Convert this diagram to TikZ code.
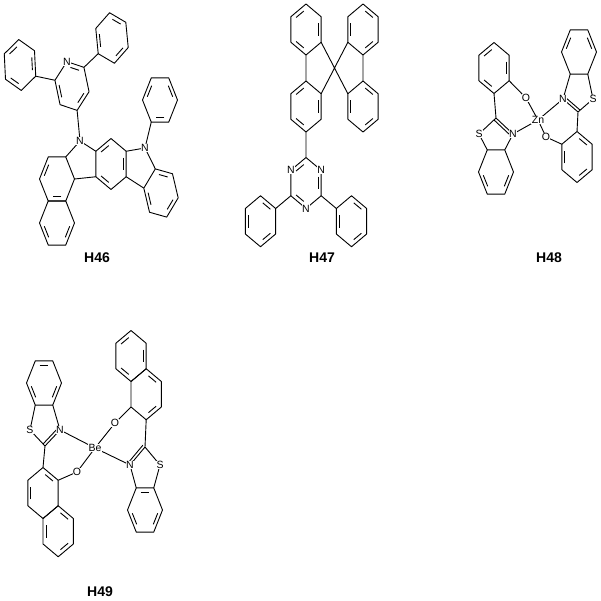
\documentclass[tikz,border=0pt]{standalone}
\usepackage{fontspec}
\setmainfont{Liberation Sans}
\usetikzlibrary{calc}
\tikzset{bond/.style={line width=0.9pt,line join=round},
 atom/.style={fill=white,inner sep=0.4pt,font=\fontsize{10.5}{10.5}\selectfont},
 cname/.style={font=\fontsize{14}{14}\selectfont\bfseries}}
\newcommand\ring[5]{%
 \foreach \k in {0,...,5}{\coordinate (#1\k) at ($(#2,#3)+(#4+60*\k:17.5 and 25.5)$);}
 \draw[bond] (#10)--(#11)--(#12)--(#13)--(#14)--(#15)--cycle;
 \foreach \k in {#5}{\draw[bond] ($(#2,#3)+(#4+60*\k+10:12.9 and 18.7)$) -- ($(#2,#3)+(#4+60*\k+50:12.9 and 18.7)$);}}
\newcommand\dbl[2]{\draw[bond] ($(#1)!2.8pt!-90:(#2)$) -- ($(#2)!2.8pt!90:(#1)$);}
\begin{document}
\begin{tikzpicture}[x=1pt,y=-1pt]
\useasboundingbox (0,0) rectangle (601,601);
% ---------------- H46
\ring{c}{111}{164}{30}{1,3,5}
\ring{lu}{57}{179}{0}{1,3}
\ring{ll}{57}{223}{0}{0,2}
\ring{r}{161}{193}{11}{0,2,4}
\ring{pn}{160}{100}{0}{1,3,5}
\ring{py}{72}{86}{13}{0,2,4}
\ring{pl}{20}{65}{26}{1,3,5}
\ring{pr}{112}{38}{22}{0,2,4}
\coordinate (na) at (80,141);
\coordinate (nb) at (145,148);
\draw[bond] (na)--(c3) (c2)--(lu0) (lu5)--(na);
\draw[bond] (c5)--(nb)--(r4) (c0)--(r3);
\draw[bond] (nb)--(pn2) (na)--(py1) (py3)--(pl0) (py5)--(pr2);
\node[atom] at (na) {N};
\node[atom] at (nb) {N};
\node[atom] at (py4) {N};
\node[cname] at (97,258) {H46};
% ---------------- H47
\ring{tz}{306}{183}{30}{1,3,5}
\ring{pa}{260.5}{221.25}{30}{0,2,4}
\ring{pb}{351.5}{221.25}{30}{0,2,4}
\ring{fa}{306}{106.5}{30}{1,3,5}
\ring{fb}{306}{29.5}{30}{1,3,5}
\ring{fc}{363}{29.5}{30}{0,2,4}
\ring{fd}{363}{106.5}{30}{0,2,4}
\coordinate (sp) at (334.5,68);
\draw[bond] (tz2)--(pa5) (tz0)--(pb3) (tz4)--(fa1);
\draw[bond] (fb1)--(fa4) (fb0)--(sp)--(fa5) (fc1)--(fd4) (fc2)--(sp)--(fd3);
\node[atom] at (tz3) {N};
\node[atom] at (tz5) {N};
\node[atom] at (tz1) {N};
\node[cname] at (322,258) {H47};
% ---------------- H48
\ring{ua}{494}{68}{30}{1,3,5}
\ring{la}{496}{172}{0}{0,2}
\ring{ub}{579}{52}{0}{3,5}
\ring{lb}{577}{157}{30}{0,2,4}
\coordinate (c2l) at (496,118);
\coordinate (sl) at (479,134);
\coordinate (nl) at (513,134);
\coordinate (o1) at (526,98);
\coordinate (zn) at (538,120);
\coordinate (c2r) at (578,112);
\coordinate (nr) at (563,99);
\coordinate (sr) at (593,99);
\coordinate (o2) at (546,137);
\draw[bond] (ua1)--(c2l)--(sl)--(la4) (c2l)--(nl)--(la5) (ua0)--(o1)--(zn)--(nl);
\dbl{c2l}{nl}
\draw[bond] (lb4)--(c2r)--(nr)--(ub2) (c2r)--(sr)--(ub1) (lb3)--(o2)--(zn)--(nr);
\dbl{c2r}{nr}
\node[atom] at (sl) {S};
\node[atom] at (nl) {N};
\node[atom] at (o1) {O};
\node[atom] at (zn) {Zn};
\node[atom] at (nr) {N};
\node[atom] at (sr) {S};
\node[atom] at (o2) {O};
\node[cname] at (549,258) {H48};
% ---------------- H49
\ring{ba}{44}{383}{0}{0,2,4}
\ring{na}{43}{493}{30}{2,4}
\ring{nb}{58.2}{531.25}{30}{0,2,4}
\ring{nc}{131}{356}{30}{1,3,5}
\ring{nd}{146.2}{394.25}{30}{0,4}
\ring{bb}{145}{510}{0}{0,2,4}
\coordinate (s1) at (30,430);
\coordinate (ca) at (45,446);
\coordinate (n1) at (60,430);
\coordinate (oa) at (77,472);
\coordinate (be) at (95,448);
\coordinate (ob) at (115,423);
\coordinate (cb) at (145,447);
\coordinate (n2) at (130,465);
\coordinate (s2) at (160,465);
\draw[bond] (ba2)--(s1)--(ca)--(n1)--(ba1) (ca)--(na4) (na5)--(oa)--(be)--(n1);
\dbl{n1}{ca}
\draw[bond] (nd2)--(ob)--(be)--(n2) (nd1)--(cb)--(n2)--(bb4) (cb)--(s2)--(bb5);
\dbl{cb}{n2}
\node[atom] at (s1) {S};
\node[atom] at (n1) {N};
\node[atom] at (oa) {O};
\node[atom] at (be) {Be};
\node[atom] at (ob) {O};
\node[atom] at (n2) {N};
\node[atom] at (s2) {S};
\node[cname] at (100,592) {H49};
\end{tikzpicture}
\end{document}
